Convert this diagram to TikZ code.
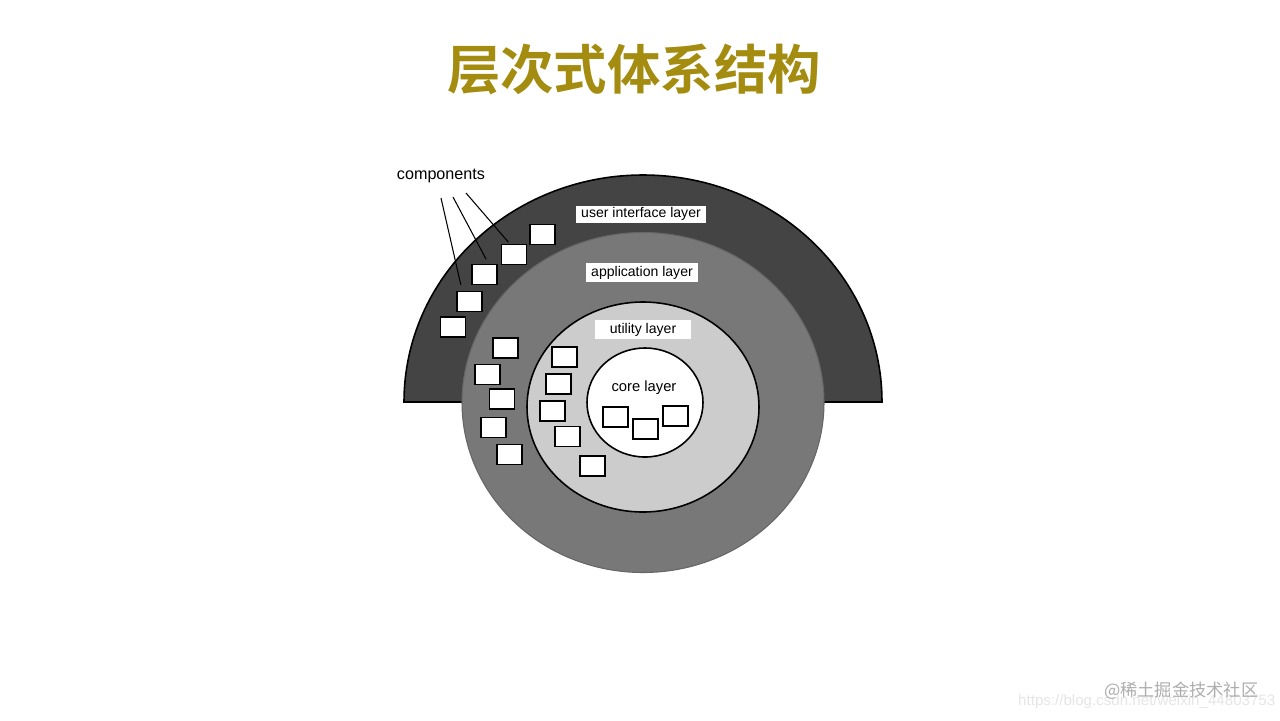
\documentclass[tikz,border=0pt]{standalone}
\usepackage{fontspec}
\setmainfont{Liberation Sans}
\newfontfamily\cjk{Noto Sans CJK SC}[BoldFont={Noto Sans CJK SC Bold}]
\usetikzlibrary{calc}
\definecolor{titlegold}{RGB}{164,140,16}
\definecolor{uigray}{RGB}{68,68,68}
\definecolor{appgray}{RGB}{120,120,120}
\definecolor{utilgray}{RGB}{204,204,204}
\tikzset{
	comp/.style={draw=black, fill=white, line width=0.45pt, minimum width=2.5mm, minimum height=2mm, inner sep=0pt},
	layerlbl/.style={fill=white, inner sep=0pt, font=\fontsize{4}{5}\selectfont},
	leader/.style={line width=0.3pt}
}

\begin{document}
\begin{tikzpicture}[x=0.1mm, y=-0.1mm]
			%%%%% START %%%%%
			\useasboundingbox (0, 0) rectangle (1280, 720);
			
			\node[font=\cjk\bfseries\fontsize{15.2}{16}\selectfont, text=titlegold] (title) at (634, 69) {层次式体系结构};
			
			% layers, outside in
			\draw[fill=uigray, line width=0.45pt] (404, 402) arc[start angle=180, end angle=360, x radius=239, y radius=227] -- cycle;
			\draw[fill=appgray, draw=black!60, line width=0.3pt] (643, 402.5) ellipse [x radius=181, y radius=170];
			\draw[fill=utilgray, line width=0.45pt] (643, 407) ellipse [x radius=116, y radius=105];
			\draw[fill=white, line width=0.45pt] (645, 402.5) ellipse [x radius=58, y radius=54.5];
			
			\node[layerlbl, minimum width=13mm, minimum height=1.7mm] (uilbl) at (641, 214) {user interface layer};
			\node[layerlbl, minimum width=11.2mm, minimum height=1.9mm] (applbl) at (642, 272.5) {application layer};
			\node[layerlbl, minimum width=9.6mm, minimum height=1.9mm] (utillbl) at (643, 329.5) {utility layer};
			\node[font=\fontsize{4.2}{5}\selectfont, inner sep=0pt] (corelbl) at (644, 388) {core layer};
			
			% components
			\node[comp] (ui1) at (542.5, 234.5) {};
			\node[comp] (ui2) at (514, 254.5) {};
			\node[comp] (ui3) at (484.5, 274.5) {};
			\node[comp] (ui4) at (469.5, 301.5) {};
			\node[comp] (ui5) at (453, 327) {};
			
			\node[comp] (app1) at (505.5, 348) {};
			\node[comp] (app2) at (487.5, 374.5) {};
			\node[comp] (app3) at (502, 399) {};
			\node[comp] (app4) at (493.5, 427.5) {};
			\node[comp] (app5) at (509.5, 454.5) {};
			
			\node[comp] (util1) at (564.5, 357) {};
			\node[comp] (util2) at (558.5, 384) {};
			\node[comp] (util3) at (552.5, 411) {};
			\node[comp] (util4) at (567.5, 436.5) {};
			\node[comp] (util5) at (592.5, 466) {};
			
			\node[comp] (core1) at (615.5, 417) {};
			\node[comp] (core2) at (645.5, 429) {};
			\node[comp] (core3) at (675.5, 416) {};
			
			\node[font=\fontsize{4.6}{5}\selectfont, inner sep=0pt] (complbl) at (441, 176) {components};
			\coordinate (lead1) at (441, 198);
			\coordinate (lead2) at (453, 197);
			\coordinate (lead3) at (466, 193);
			\draw[leader, shorten >=0.6mm] (lead1) -- ([shift={(6, 0)}]ui4.north west);
			\draw[leader, shorten >=0.5mm] (lead2) -- ([shift={(4, 0)}]ui3.north);
			\draw[leader, shorten >=0.2mm] (lead3) -- ([shift={(9, 0)}]ui2.north west);
			
			% watermark
			\node[anchor=east, text=black!10, font=\fontsize{4.3}{5}\selectfont, inner sep=0pt] (csdn) at (1276, 702) {https://blog.csdn.net/weixin\_44803753};
			\node[anchor=east, text=black!32, font=\cjk\fontsize{4.9}{5}\selectfont, inner sep=0pt] (juejin) at (1259, 691) {@稀土掘金技术社区};
			
			%%%%% END %%%%%
		\end{tikzpicture}
\end{document}
